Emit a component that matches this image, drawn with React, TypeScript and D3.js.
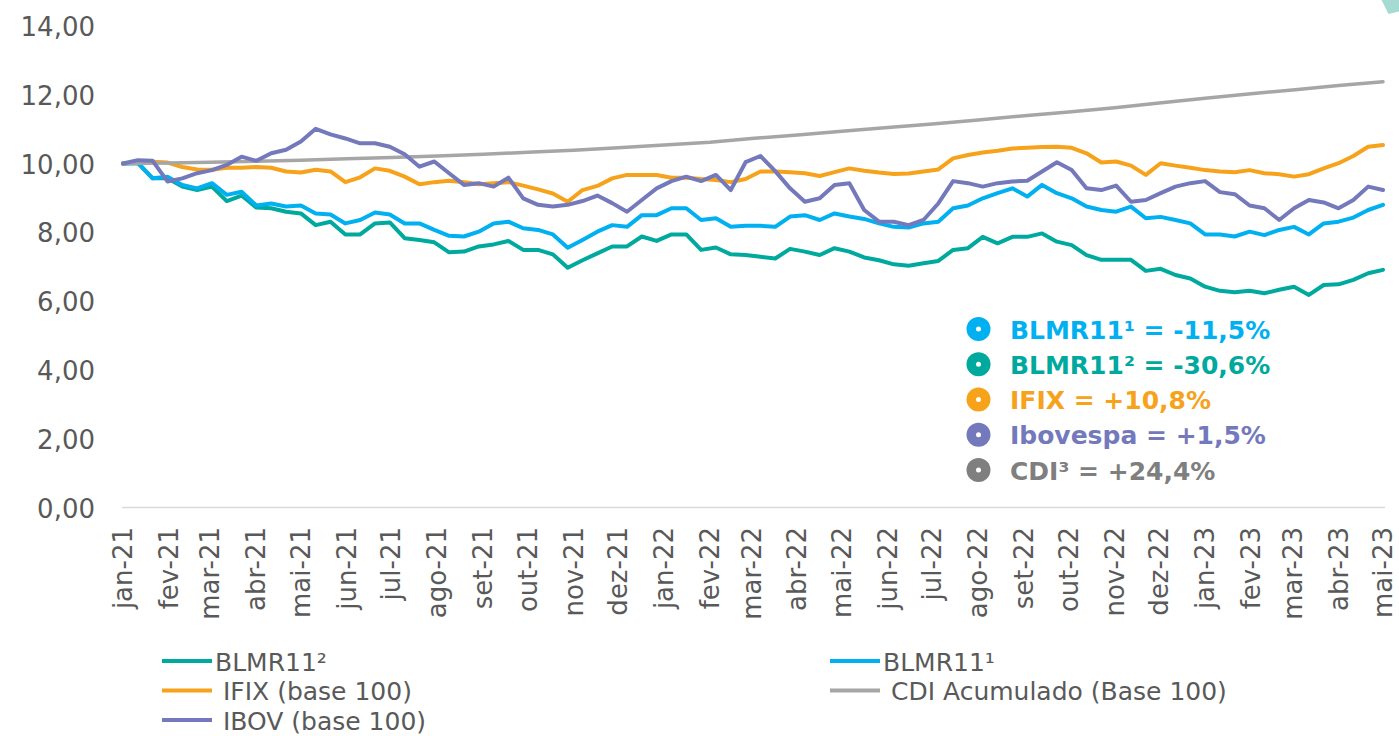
import React, { useRef, useEffect } from "react";
import * as d3 from "d3";

/* month abbreviations for the x axis */
const MONTHS = ["jan", "fev", "mar", "abr", "mai", "jun", "jul", "ago", "set", "out", "nov", "dez"];
const Y_TICKS = [0, 2, 4, 6, 8, 10, 12, 14];

/* readings every 10 days starting 01/01/2021 (base 10) */
const BLMR11_2 = [
  10.0, 10.02, 9.57, 9.57, 9.33, 9.23, 9.33, 8.91, 9.07, 8.72, 8.7, 8.6, 8.55, 8.21, 8.31, 7.94, 7.94, 8.26, 8.29, 7.83,
  7.78, 7.71, 7.42, 7.44, 7.59, 7.65, 7.75, 7.49, 7.49, 7.36, 6.97, 7.19, 7.39, 7.59, 7.59, 7.88, 7.75, 7.94, 7.94, 7.49,
  7.56, 7.36, 7.34, 7.29, 7.24, 7.52, 7.44, 7.34, 7.54, 7.44, 7.27, 7.19, 7.07, 7.03, 7.1, 7.17, 7.49, 7.54, 7.87, 7.68,
  7.87, 7.87, 7.97, 7.73, 7.63, 7.34, 7.2, 7.2, 7.2, 6.88, 6.94, 6.76, 6.66, 6.42, 6.3, 6.26, 6.3, 6.23, 6.33, 6.42,
  6.18, 6.47, 6.49, 6.62, 6.81, 6.91,
];
const BLMR11_1 = [
  10.0, 10.02, 9.57, 9.62, 9.38, 9.28, 9.43, 9.09, 9.18, 8.78, 8.84, 8.75, 8.78, 8.55, 8.52, 8.26, 8.36, 8.58, 8.52, 8.26,
  8.26, 8.07, 7.9, 7.88, 8.02, 8.26, 8.31, 8.12, 8.07, 7.94, 7.55, 7.78, 8.02, 8.21, 8.16, 8.5, 8.5, 8.7, 8.7, 8.36,
  8.41, 8.16, 8.19, 8.19, 8.16, 8.46, 8.5, 8.36, 8.55, 8.46, 8.39, 8.26, 8.16, 8.14, 8.26, 8.31, 8.7, 8.78, 8.99, 9.14,
  9.28, 9.04, 9.38, 9.14, 8.99, 8.75, 8.65, 8.6, 8.75, 8.41, 8.45, 8.36, 8.26, 7.94, 7.94, 7.88, 8.02, 7.92, 8.07, 8.16,
  7.94, 8.26, 8.31, 8.43, 8.65, 8.8,
];
const IFIX = [
  10.0, 10.05, 10.05, 10.03, 9.9, 9.83, 9.82, 9.88, 9.88, 9.9, 9.88, 9.77, 9.74, 9.82, 9.77, 9.46, 9.6, 9.86, 9.79, 9.62,
  9.4, 9.46, 9.5, 9.46, 9.4, 9.43, 9.46, 9.36, 9.25, 9.13, 8.89, 9.23, 9.35, 9.57, 9.67, 9.67, 9.67, 9.59, 9.59, 9.55,
  9.52, 9.46, 9.55, 9.77, 9.77, 9.75, 9.72, 9.64, 9.75, 9.86, 9.79, 9.74, 9.7, 9.71, 9.77, 9.83, 10.15, 10.25, 10.32, 10.37,
  10.44, 10.46, 10.48, 10.49, 10.46, 10.3, 10.03, 10.06, 9.94, 9.67, 10.01, 9.94, 9.88, 9.81, 9.77, 9.75, 9.81, 9.72, 9.69, 9.62,
  9.69, 9.86, 10.01, 10.22, 10.49, 10.54,
];
const IBOV = [
  10.0, 10.1, 10.08, 9.48, 9.57, 9.72, 9.81, 9.96, 10.2, 10.08, 10.3, 10.4, 10.64, 11.01, 10.85, 10.73, 10.59, 10.59, 10.49, 10.27,
  9.91, 10.06, 9.72, 9.38, 9.43, 9.33, 9.59, 8.99, 8.8, 8.75, 8.8, 8.91, 9.07, 8.85, 8.6, 8.94, 9.28, 9.49, 9.62, 9.49,
  9.67, 9.23, 10.04, 10.22, 9.78, 9.28, 8.89, 8.99, 9.38, 9.43, 8.65, 8.31, 8.31, 8.21, 8.36, 8.84, 9.49, 9.43, 9.33, 9.43,
  9.48, 9.5, 9.77, 10.04, 9.81, 9.28, 9.23, 9.36, 8.89, 8.94, 9.14, 9.33, 9.43, 9.49, 9.17, 9.11, 8.78, 8.7, 8.36, 8.7,
  8.94, 8.87, 8.7, 8.94, 9.33, 9.23,
];
/* CDI read on the 1st of each month, jan-21 .. mai-23 */
const CDI = [
  10.0, 10.02, 10.04, 10.07, 10.1, 10.14, 10.18, 10.22, 10.27, 10.33, 10.39, 10.46, 10.54, 10.62, 10.73,
  10.83, 10.94, 11.05, 11.15, 11.27, 11.39, 11.5, 11.62, 11.76, 11.9, 12.03, 12.14, 12.27, 12.38,
];

const STATS = ["BLMR11¹ = -11,5%", "BLMR11² = -30,6%", "IFIX = +10,8%", "Ibovespa = +1,5%", "CDI³ = +24,4%"];
const STAT_COLORS = ["#00B0F0", "#00A99D", "#F7A21B", "#7479BC", "#7F7F7F"];

const LEGEND = ["BLMR11²", "BLMR11¹", " IFIX (base 100)", " CDI Acumulado (Base 100)", " IBOV (base 100)"];

const C = {
  blmr2: "#00A99D",
  blmr1: "#00B0F0",
  ifix: "#F7A21B",
  cdi: "#A6A6A6",
  ibov: "#7479BC",
  text: "#595959",
};

export default function App() {
  const svgRef = useRef<SVGSVGElement>(null);

  useEffect(() => {
    const W = 1399;
    const H = 736;
    const svg = d3
      .select(svgRef.current)
      .attr("viewBox", `0 0 ${W} ${H}`)
      .style("font-family", "'DejaVu Sans', Verdana, sans-serif");
    svg.selectAll("*").remove();

    /* ---- scales ---- */
    const start = new Date(2021, 0, 1);
    const end = new Date(2023, 4, 1);
    const x = d3.scaleTime().domain([start, end]).range([123, 1383]);
    const y = d3.scaleLinear().domain([0, 14]).range([507.5, 26]);

    const stepDates = IFIX.map((_, i) => d3.timeDay.offset(start, i * 10));
    const monthDates = d3.timeMonth.range(start, d3.timeDay.offset(end, 1));

    /* ---- decoration top right ---- */
    svg
      .append("polygon")
      .attr("points", "1381.5,0 1399,0 1399,11.5 1388.5,14")
      .attr("fill", "#A6DBD3");

    /* ---- y labels ---- */
    svg
      .append("g")
      .selectAll("text")
      .data(Y_TICKS)
      .enter()
      .append("text")
      .attr("x", 95)
      .attr("y", (d) => y(d) + 1)
      .attr("text-anchor", "end")
      .attr("dominant-baseline", "central")
      .attr("fill", C.text)
      .style("font-size", "26px")
      .text((d) => d3.format(".2f")(d).replace(".", ","));

    /* ---- x axis line ---- */
    svg
      .append("line")
      .attr("x1", 122)
      .attr("x2", 1385)
      .attr("y1", y(0))
      .attr("y2", y(0))
      .attr("stroke", "#D9D9D9")
      .attr("stroke-width", 1.5);

    /* ---- x labels ---- */
    svg
      .append("g")
      .selectAll("text")
      .data(monthDates)
      .enter()
      .append("text")
      .attr("transform", (d) => `translate(${x(d)},527) rotate(-90)`)
      .attr("text-anchor", "end")
      .attr("dominant-baseline", "central")
      .attr("fill", C.text)
      .style("font-size", "26px")
      .text((d) => `${MONTHS[d.getMonth()]}-${String(d.getFullYear()).slice(2)}`);

    /* ---- lines ---- */
    const line = d3
      .line<[Date, number]>()
      .x((d) => x(d[0]))
      .y((d) => y(d[1]));

    const series: [number[], Date[], string, number][] = [
      [BLMR11_2, stepDates, C.blmr2, 4],
      [BLMR11_1, stepDates, C.blmr1, 4],
      [IFIX, stepDates, C.ifix, 4],
      [CDI, monthDates, C.cdi, 3.5],
      [IBOV, stepDates, C.ibov, 4],
    ];
    series.forEach(([vals, dates, color, w]) => {
      svg
        .append("path")
        .datum(vals.map((v, i) => [dates[i], v] as [Date, number]))
        .attr("d", line)
        .attr("fill", "none")
        .attr("stroke", color)
        .attr("stroke-width", w)
        .attr("stroke-linejoin", "round")
        .attr("stroke-linecap", "round");
    });

    /* ---- stats box ---- */
    const stats = svg.append("g");
    STATS.forEach((s, i) => {
      const cy = 329 + i * 35.25;
      stats.append("circle").attr("cx", 978.5).attr("cy", cy).attr("r", 12).attr("fill", STAT_COLORS[i]);
      stats.append("circle").attr("cx", 978.5).attr("cy", cy).attr("r", 2.5).attr("fill", "#fff");
      stats
        .append("text")
        .attr("x", 1010)
        .attr("y", cy + 1)
        .attr("dominant-baseline", "central")
        .attr("fill", STAT_COLORS[i])
        .style("font-size", "25px")
        .style("font-weight", "bold")
        .text(s);
    });

    /* ---- bottom legend ---- */
    const legColors = [C.blmr2, C.blmr1, C.ifix, C.cdi, C.ibov];
    const leg = svg.append("g");
    LEGEND.forEach((label, i) => {
      const lx = i % 2 === 0 ? 162 : 830;
      const ly = 661 + Math.floor(i / 2) * 29.5;
      leg
        .append("line")
        .attr("x1", lx)
        .attr("x2", lx + 50)
        .attr("y1", ly)
        .attr("y2", ly)
        .attr("stroke", legColors[i])
        .attr("stroke-width", 4);
      leg
        .append("text")
        .attr("x", lx + 53)
        .attr("y", ly + 1)
        .attr("dominant-baseline", "central")
        .attr("fill", C.text)
        .style("font-size", "25px")
        .style("white-space", "pre")
        .text(label);
    });
  }, []);

  return (
    <svg
      ref={svgRef}
      width={1399}
      height={736}
      style={{ position: "absolute", left: 0, top: 0, background: "#fff" }}
    />
  );
}
